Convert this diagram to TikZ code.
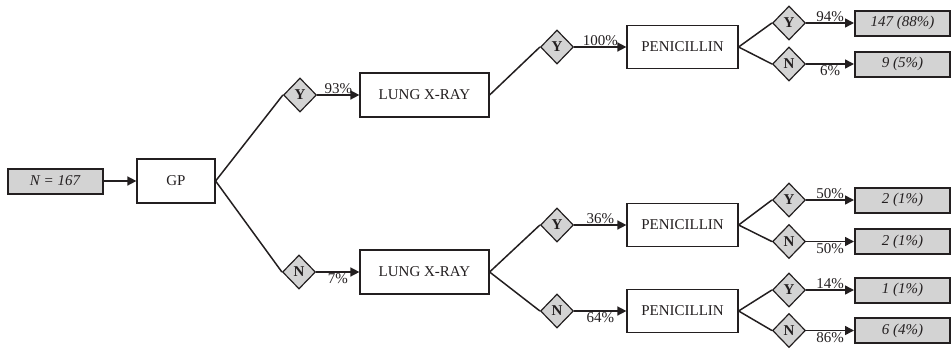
\documentclass[tikz,border=0pt]{standalone}
\usepackage{fontspec}
\setmainfont{Liberation Serif}
\usetikzlibrary{shapes.geometric,arrows.meta}
\definecolor{ink}{HTML}{231F20}
\definecolor{shade}{HTML}{D3D3D3}
\begin{document}
\begin{tikzpicture}[x=1pt,y=-1pt,
 font=\fontsize{15}{17}\selectfont,
 box/.style={draw=ink, line width=1.2pt, fill=white, inner sep=0pt, minimum height=44pt, text=ink},
 res/.style={draw=ink, line width=2pt, fill=shade, inner sep=0pt, minimum width=95pt, minimum height=25pt, font=\fontsize{15}{17}\selectfont\itshape, text=ink},
 dia/.style={diamond, draw=ink, line width=1.2pt, fill=shade, inner sep=0pt, minimum width=33pt, minimum height=34pt, font=\fontsize{15}{17}\selectfont\bfseries, text=ink},
 conn/.style={draw=ink, line width=1.5pt},
 arr/.style={conn, -{Triangle[length=9pt,width=9pt]}},
 pct/.style={inner sep=1pt, text=ink}]
\useasboundingbox (0,0) rectangle (952,348);
% nodes
\node[res] (n0) at (55,181) {N = 167};
\node[box, minimum width=78pt] (gp) at (176,181) {GP};
\node[dia] (ya) at (300,95) {Y};
\node[dia] (na) at (299,272) {N};
\node[box, minimum width=129pt] (lx1) at (424.5,95) {LUNG X-RAY};
\node[box, minimum width=129pt] (lx2) at (424.5,272) {LUNG X-RAY};
\node[dia] (yb) at (557,47) {Y};
\node[dia] (yc) at (557,225) {Y};
\node[dia] (nc) at (557,311) {N};
\node[box, minimum width=111pt, minimum height=43pt] (p1) at (682.5,47) {PENICILLIN};
\node[box, minimum width=111pt, minimum height=43pt] (p2) at (682.5,225) {PENICILLIN};
\node[box, minimum width=111pt, minimum height=43pt] (p3) at (682.5,311) {PENICILLIN};
\node[dia] (y1) at (789,23) {Y};
\node[dia] (n1) at (789,64) {N};
\node[dia] (y2) at (789,200) {Y};
\node[dia] (n2) at (789,241.5) {N};
\node[dia] (y3) at (789,290) {Y};
\node[dia] (n3) at (789,330.5) {N};
\node[res] (r1) at (902.5,23) {147 (88\%)};
\node[res] (r2) at (902.5,64) {9 (5\%)};
\node[res] (r3) at (902.5,200) {2 (1\%)};
\node[res] (r4) at (902.5,241.5) {2 (1\%)};
\node[res] (r5) at (902.5,290) {1 (1\%)};
\node[res] (r6) at (902.5,330.5) {6 (4\%)};
% connectors
\draw[arr] (n0) -- (gp);
\draw[conn] (gp.east) -- (ya.west);
\draw[conn] (gp.east) -- (na.west);
\draw[arr] (ya.east) -- node[pct, above] {93\%} (lx1.west);
\draw[arr] (na.east) -- node[pct, below] {7\%} (lx2.west);
\draw[conn] (lx1.east) -- (yb.west);
\draw[conn] (lx2.east) -- (yc.west);
\draw[conn] (lx2.east) -- (nc.west);
\draw[arr] (yb.east) -- node[pct, above] {100\%} (p1.west);
\draw[arr] (yc.east) -- node[pct, above] {36\%} (p2.west);
\draw[arr] (nc.east) -- node[pct, below] {64\%} (p3.west);
\draw[conn] (p1.east) -- (y1.west);
\draw[conn] (p1.east) -- (n1.west);
\draw[conn] (p2.east) -- (y2.west);
\draw[conn] (p2.east) -- (n2.west);
\draw[conn] (p3.east) -- (y3.west);
\draw[conn] (p3.east) -- (n3.west);
\draw[arr] (y1.east) -- node[pct, above] {94\%} (r1.west);
\draw[arr] (n1.east) -- node[pct, below] {6\%} (r2.west);
\draw[arr] (y2.east) -- node[pct, above] {50\%} (r3.west);
\draw[arr] (n2.east) -- node[pct, below] {50\%} (r4.west);
\draw[arr] (y3.east) -- node[pct, above] {14\%} (r5.west);
\draw[arr] (n3.east) -- node[pct, below] {86\%} (r6.west);
\end{tikzpicture}
\end{document}
